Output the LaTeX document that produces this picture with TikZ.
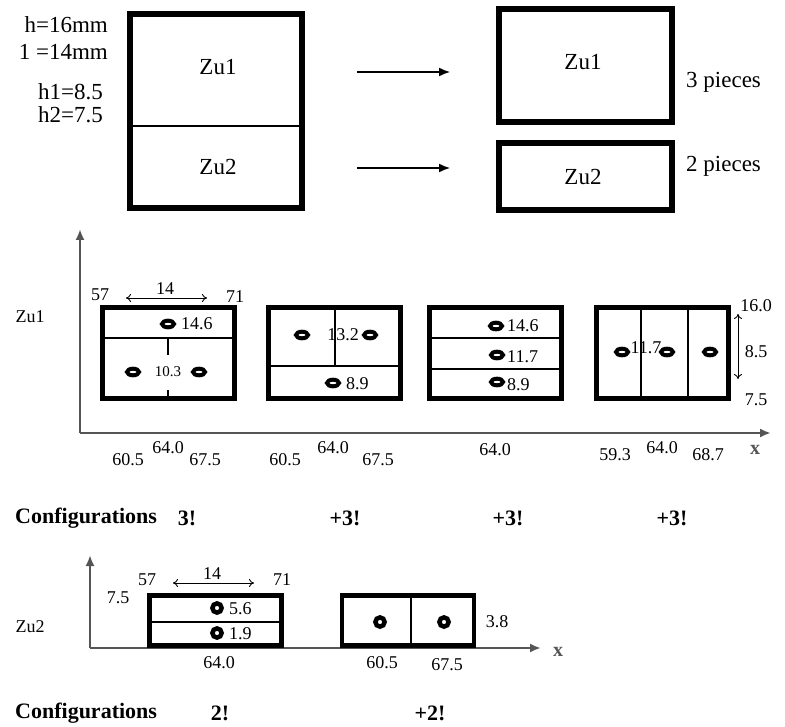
\documentclass[tikz,border=0pt]{standalone}
\usepackage{fontspec}
\setmainfont{Liberation Serif}
\usetikzlibrary{arrows.meta}
\definecolor{axisgray}{RGB}{85,85,85}
\tikzset{
  thickbox/.style={draw, line width=6pt, inner sep=0pt, rectangle},
  midbox/.style={draw, line width=5pt, inner sep=0pt, rectangle, minimum width=132pt, minimum height=91pt},
  lowbox/.style={draw, line width=4.5pt, inner sep=0pt, rectangle, minimum width=132pt, minimum height=50pt},
  thin/.style={line width=1.3pt},
  axisline/.style={draw=axisgray, line width=2.6pt, -{Latex[length=11pt,width=9pt]}},
  flowarrow/.style={line width=1.5pt, -{Latex[length=11pt,width=9pt]}},
  dimarrow/.style={line width=0.9pt, {To[length=5pt,width=8pt]}-{To[length=5pt,width=8pt]}},
  big/.style={inner sep=0pt, font=\fontsize{23}{23}\selectfont},
  lbl/.style={inner sep=0pt, font=\fontsize{18}{18}\selectfont},
  small/.style={inner sep=0pt, font=\fontsize{15}{15}\selectfont},
  conf/.style={inner sep=0pt, font=\fontsize{22}{22}\selectfont\bfseries},
  axlbl/.style={inner sep=0pt, text=axisgray, font=\fontsize{20}{20}\selectfont\bfseries},
  hole/.style={draw, line width=4pt},
  ringmark/.style={draw, line width=4.5pt}
}
\begin{document}
\begin{tikzpicture}[x=1pt,y=-1pt]
\useasboundingbox (0,0) rectangle (785,727);

% ---------------- top part ----------------
\node[big, anchor=east] (th) at (108,25) {h=16mm};
\node[big, anchor=east] (tl) at (108,52) {1 =14mm};
\node[big, anchor=east] (th1) at (103,92) {h1=8.5};
\node[big, anchor=east] (th2) at (103,115) {h2=7.5};

\node[thickbox, minimum width=172pt, minimum height=194pt] (bigbox) at (216,111) {};
\draw[thin] (bigbox.west |- 0,126) -- (bigbox.east |- 0,126);
\node[big] (bz1) at (218,67) {Zu1};
\node[big] (bz2) at (218,167) {Zu2};

\node[thickbox, minimum width=173pt, minimum height=113pt] (rz1) at (585.5,65.5) {};
\node[thickbox, minimum width=173pt, minimum height=67pt] (rz2) at (585.5,176.5) {};
\node[big] (rz1t) at (583,62) {Zu1};
\node[big] (rz2t) at (583,177) {Zu2};
\node[big, anchor=west] (p3) at (686,82) {3 pieces};
\node[big, anchor=west] (p2) at (686,166) {2 pieces};

\coordinate (a1s) at (357,72);
\coordinate (a1e) at (450,72);
\coordinate (a2s) at (357,168);
\coordinate (a2e) at (450,168);
\draw[flowarrow] (a1s) -- (a1e);
\draw[flowarrow] (a2s) -- (a2e);

% ---------------- middle part (Zu1) ----------------
\coordinate (o1) at (80,433);
\coordinate (y1) at (80,229);
\coordinate (x1) at (771,433);
\draw[axisline] (o1) -- (y1);
\draw[axisline] (o1) -- (x1);
\node[lbl] (zu1lab) at (30,317) {Zu1};
\node[axlbl] (xlab1) at (755,450) {x};

% box 1
\node[midbox] (m1) at (168,353.5) {};
\draw[thin] (m1.west |- 0,338) -- (m1.east |- 0,338);
\draw[thin] (168,338) -- (168,355);
\draw[thin] (168,390) -- (m1.south);
\draw[hole] (168,324) ellipse [x radius=6, y radius=3.3];
\draw[hole] (133,372) ellipse [x radius=6, y radius=3.3];
\draw[hole] (199,372) ellipse [x radius=6, y radius=3.3];
\node[lbl, anchor=west] (m1a) at (181,324) {14.6};
\node[small] (m1b) at (168,372) {10.3};
\node[lbl] (m1l) at (100,295) {57};
\node[lbl] (m1r) at (235,297) {71};
\coordinate (d1s) at (126,298);
\coordinate (d1e) at (207,298);
\draw[dimarrow] (d1s) -- (d1e);
\node[lbl] (m1w) at (165,289) {14};
\node[lbl] (m1x1) at (128,460) {60.5};
\node[lbl] (m1x2) at (168,448) {64.0};
\node[lbl] (m1x3) at (205,460) {67.5};

% box 2
\node[midbox] (m2) at (334,353.5) {};
\draw[thin] (m2.west |- 0,366) -- (m2.east |- 0,366);
\draw[thin] (335,308) -- (335,366);
\draw[hole] (302,335) ellipse [x radius=6, y radius=3.3];
\draw[hole] (370,335) ellipse [x radius=6, y radius=3.3];
\draw[hole] (333,383) ellipse [x radius=6, y radius=3.3];
\node[lbl] (m2a) at (343,335) {13.2};
\node[lbl, anchor=west] (m2b) at (346,384) {8.9};
\node[lbl] (m2x1) at (285,460) {60.5};
\node[lbl] (m2x2) at (333,448) {64.0};
\node[lbl] (m2x3) at (378,460) {67.5};

% box 3
\node[midbox] (m3) at (495.5,353.5) {};
\draw[thin] (m3.west |- 0,338) -- (m3.east |- 0,338);
\draw[thin] (m3.west |- 0,369) -- (m3.east |- 0,369);
\draw[hole] (496,326) ellipse [x radius=6, y radius=3.3];
\draw[hole] (497,355) ellipse [x radius=6, y radius=3.3];
\draw[hole] (497,382) ellipse [x radius=6, y radius=3.3];
\node[lbl, anchor=west] (m3a) at (507,326) {14.6};
\node[lbl, anchor=west] (m3b) at (507,357) {11.7};
\node[lbl, anchor=west] (m3c) at (507,385) {8.9};
\node[lbl] (m3x) at (495,450) {64.0};

% box 4
\node[midbox] (m4) at (662.5,353.5) {};
\draw[thin] (641,308) -- (641,399);
\draw[thin] (688,308) -- (688,399);
\draw[hole] (622,352) ellipse [x radius=6, y radius=3.3];
\draw[hole] (667,352) ellipse [x radius=6, y radius=3.3];
\draw[hole] (710,352) ellipse [x radius=6, y radius=3.3];
\node[lbl] (m4a) at (646,348) {11.7};
\node[lbl] (m4t) at (756,306) {16.0};
\node[lbl] (m4m) at (756,352) {8.5};
\node[lbl] (m4b) at (756,400) {7.5};
\coordinate (d4s) at (738,314);
\coordinate (d4e) at (738,379);
\draw[dimarrow] (d4s) -- (d4e);
\node[lbl] (m4x1) at (615,455) {59.3};
\node[lbl] (m4x2) at (662,448) {64.0};
\node[lbl] (m4x3) at (708,455) {68.7};

% configurations row 1
\node[conf, anchor=west] (c1) at (15,518) {Configurations};
\node[conf] (c1a) at (187,518) {3!};
\node[conf] (c1b) at (345,518) {+3!};
\node[conf] (c1c) at (508,518) {+3!};
\node[conf] (c1d) at (672,518) {+3!};

% ---------------- bottom part (Zu2) ----------------
\coordinate (o2) at (90,648);
\coordinate (y2) at (90,555);
\coordinate (x2) at (541,648);
\draw[axisline] (o2) -- (y2);
\draw[axisline] (o2) -- (x2);
\node[lbl] (zu2lab) at (30,627) {Zu2};
\node[axlbl] (xlab2) at (558,652) {x};

\node[lowbox] (b1) at (215.5,620.5) {};
\draw[thin] (b1.west |- 0,622) -- (b1.east |- 0,622);
\draw[ringmark] (217,608) circle [radius=4.6];
\draw[ringmark] (217,633) circle [radius=4.6];
\node[lbl, anchor=west] (b1a) at (229,609) {5.6};
\node[lbl, anchor=west] (b1b) at (229,634) {1.9};
\node[lbl] (b1t) at (118,598) {7.5};
\node[lbl] (b1l) at (147,580) {57};
\node[lbl] (b1r) at (282,580) {71};
\coordinate (d2s) at (173,583);
\coordinate (d2e) at (254,583);
\draw[dimarrow] (d2s) -- (d2e);
\node[lbl] (b1w) at (212,574) {14};
\node[lbl] (b1x) at (219,663) {64.0};

\node[lowbox] (b2) at (408,620.5) {};
\draw[thin] (411,596) -- (411,646);
\draw[ringmark] (380,622) circle [radius=4.6];
\draw[ringmark] (444,622) circle [radius=4.6];
\node[lbl] (b2h) at (497,622) {3.8};
\node[lbl] (b2x1) at (382,663) {60.5};
\node[lbl] (b2x2) at (447,665) {67.5};

% configurations row 2
\node[conf, anchor=west] (c2) at (15,713) {Configurations};
\node[conf] (c2a) at (220,713) {2!};
\node[conf] (c2b) at (430,713) {+2!};
\end{tikzpicture}
\end{document}
